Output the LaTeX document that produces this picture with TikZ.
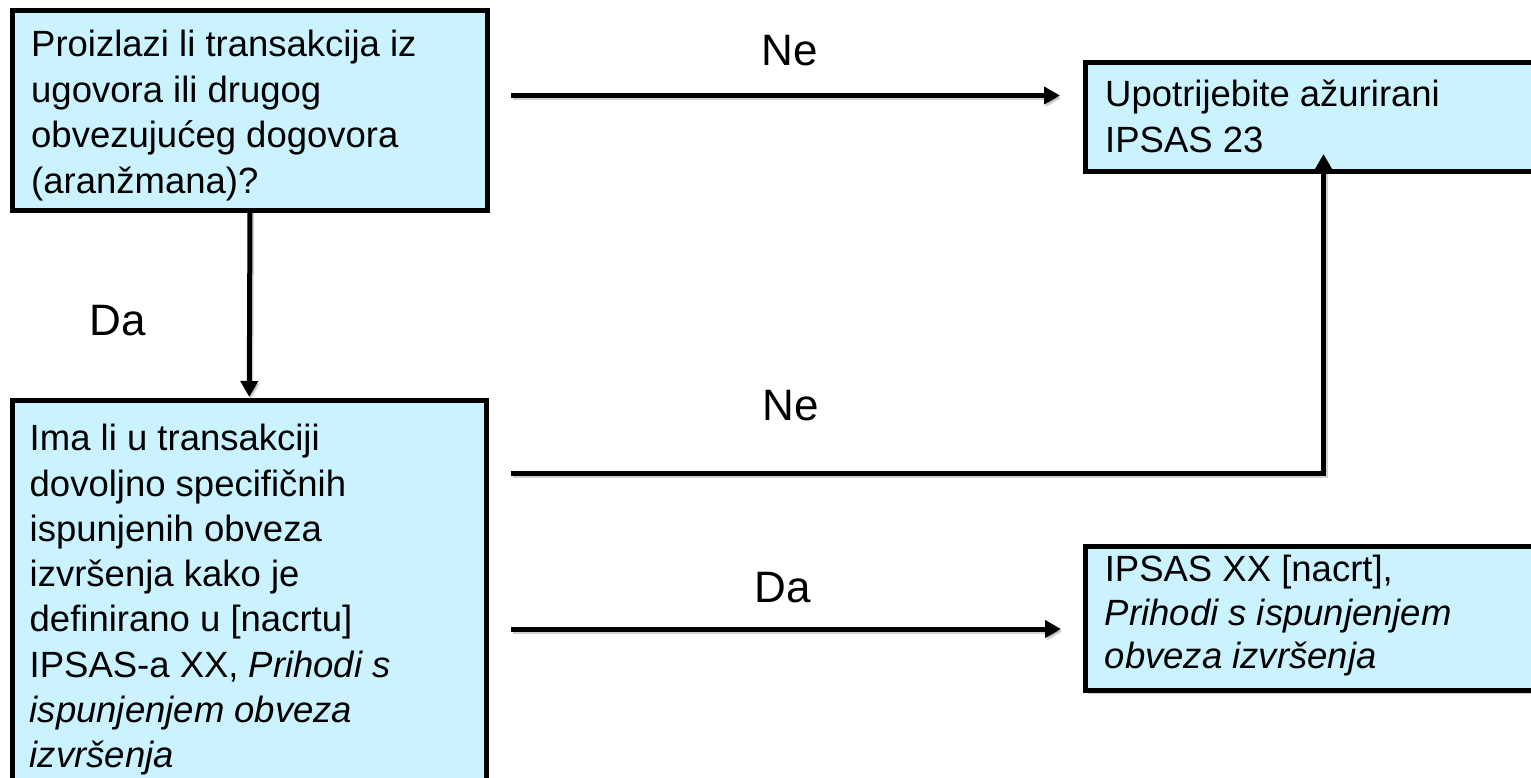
\documentclass[tikz,border=0pt]{standalone}
\usepackage{fontspec}
\setmainfont{Liberation Sans}
\usetikzlibrary{arrows.meta,shadows}
\definecolor{boxfill}{RGB}{202,243,255}
\tikzset{
  box/.style={draw=black, line width=5pt, fill=boxfill, rectangle, anchor=north west,
    inner sep=0pt, outer sep=0pt,
    drop shadow={shadow xshift=2pt, shadow yshift=-3pt, opacity=0.2, fill=black}},
  boxtext/.style={anchor=base west, inner sep=0pt, font=\fontsize{36.5pt}{45.5pt}\selectfont},
  lbl/.style={anchor=base west, inner sep=0pt, font=\fontsize{44pt}{50pt}\selectfont},
  conn/.style={line width=5pt, -{Triangle[length=16pt,width=17pt]}},
  connshadow/.style={line width=5pt, draw=black, opacity=0.18, -{Triangle[length=16pt,width=17pt]}},
}
\begin{document}
\begin{tikzpicture}[x=1pt,y=-1pt]
\useasboundingbox (0,0) rectangle (1531,778);
\clip (0,0) rectangle (1531,778);

% boxes
\node[box, minimum width=475pt, minimum height=199.5pt] (boxA) at (12.5,11) {};
\node[box, minimum width=473.5pt, minimum height=420pt] (boxB) at (12.5,400.5) {};
\node[box, minimum width=500pt, minimum height=109pt] (boxC) at (1085.5,62.5) {};
\node[box, minimum width=500pt, minimum height=144pt] (boxD) at (1085.5,546.5) {};

% box texts
\node[boxtext] (tA) at (31,57) {\vtop{\hbox{Proizlazi li transakcija iz}\hbox{ugovora ili drugog}\hbox{obvezujućeg dogovora}\hbox{(aranžmana)?}}};
\node[boxtext] (tB) at (29.5,450.7) {\vtop{\baselineskip=45.3pt\hbox{Ima li u transakciji}\hbox{dovoljno specifičnih}\hbox{ispunjenih obveza}\hbox{izvršenja kako je}\hbox{definirano u [nacrtu]}\hbox{IPSAS-a XX, \textit{Prihodi s}}\hbox{\textit{ispunjenjem obveza}}\hbox{\textit{izvršenja}}}};
\node[boxtext] (tC) at (1105,106.7) {\vtop{\baselineskip=46.3pt\hbox{Upotrijebite ažurirani}\hbox{IPSAS 23}}};
\node[boxtext] (tD) at (1104.6,581.7) {\vtop{\baselineskip=43.3pt\hbox{IPSAS XX [nacrt],}\hbox{\textit{Prihodi s ispunjenjem}}\hbox{\textit{obveza izvršenja}}}};

% labels
\node[lbl] (ne1) at (761.7,65.7) {Ne};
\node[lbl] (ne2) at (762.4,420.7) {Ne};
\node[lbl] (da1) at (89.6,335) {Da};
\node[lbl] (da2) at (754.6,602) {Da};

% connector end points
\coordinate (n1s) at (511,95.5);
\coordinate (n1e) at (1060,95.5);
\coordinate (n2s) at (511,473);
\coordinate (n2e) at (1323.5,154);
\coordinate (d2s) at (511,629);
\coordinate (d2e) at (1061,629);

% shadows of connectors
\begin{scope}[transform canvas={shift={(1.5pt,-2.5pt)}}]
\draw[connshadow] (n1s) -- (n1e);
\draw[connshadow] (n2s) -| (n2e);
\draw[connshadow] (d2s) -- (d2e);
\draw[connshadow] (boxA.south) -- ([yshift=3.5pt]boxB.north);
\end{scope}

% connectors
\draw[conn] (n1s) -- (n1e);
\draw[conn] (boxA.south) -- ([yshift=3.5pt]boxB.north);
\draw[conn] (n2s) -| (n2e);
\draw[conn] (d2s) -- (d2e);
\end{tikzpicture}
\end{document}
